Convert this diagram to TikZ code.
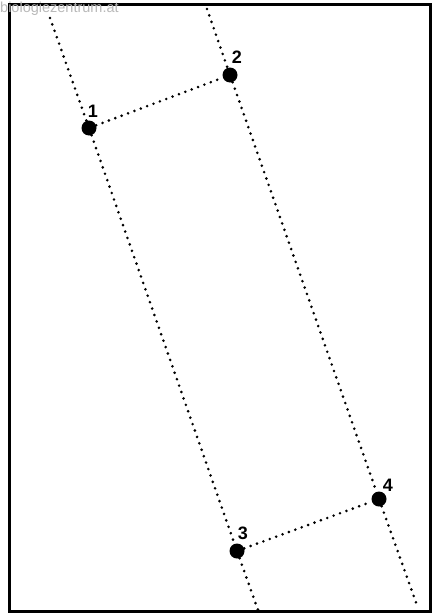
\documentclass[tikz,border=0pt]{standalone}
\usepackage{fontspec}
\setmainfont{Liberation Sans}
\definecolor{wm}{RGB}{185,185,185}
\begin{document}
\begin{tikzpicture}[x=1pt,y=-1pt,
  dotline/.style={line width=2.9pt,line cap=round,dash pattern=on 0pt off 6.8pt},
  pt/.style={circle,fill=black,inner sep=0pt,minimum size=15pt},
  lab/.style={font=\bfseries\fontsize{18}{18}\selectfont,inner sep=0pt}]
\useasboundingbox (0,0) rectangle (436,616);
\fill[white] (0,0) rectangle (436,616);
\node[draw=black,line width=3pt,minimum width=421pt,minimum height=607pt,inner sep=0pt] (frame) at (220,307.5) {};
\node[pt] (p1) at (89,128) {};
\node[pt] (p2) at (230,75) {};
\node[pt] (p3) at (237,551) {};
\node[pt] (p4) at (379,499) {};
\coordinate (a1) at (50,18);
\coordinate (a3) at (258,610);
\coordinate (b2) at (207,9);
\coordinate (b4) at (418,608);
\draw[dotline] (a1) -- (p1) -- (p3) -- (a3);
\draw[dotline] (b2) -- (p2) -- (p4) -- (b4);
\draw[dotline] (p1) -- (p2);
\draw[dotline] (p3) -- (p4);
\node[lab] (l1) at (93,111) {1};
\node[lab] (l2) at (237,57) {2};
\node[lab] (l3) at (243,533) {3};
\node[lab] (l4) at (388,485) {4};
\node[anchor=north west,inner sep=0pt,text=wm,font=\fontsize{14.5}{14.5}\selectfont] (wmk) at (0,2) {biologiezentrum.at};
\end{tikzpicture}
\end{document}
